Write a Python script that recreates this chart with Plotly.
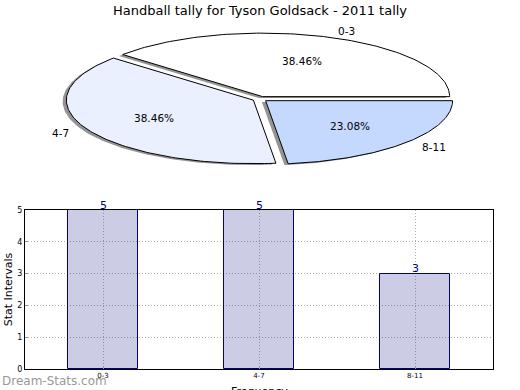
import numpy as np
import plotly.graph_objects as go

title_text = "Handball tally for Tyson Goldsack - 2011 tally"
categories = ["0-3", "4-7", "8-11"]
values = [5, 5, 3]
pie_colors = ["#ffffff", "#eaf0fe", "#c5d8fe"]
y_ticks = [0, 1, 2, 3, 4, 5]

FONT = "DejaVu Sans"
explode = 0.04
shadow_dx, shadow_dy = -0.02, -0.022

fig = go.Figure()

fracs = np.array(values, dtype=float) / np.sum(values)
starts = np.concatenate([[0.0], np.cumsum(fracs)[:-1]]) * 2 * np.pi
ends = np.cumsum(fracs) * 2 * np.pi


def wedge(cx, cy, t1, t2):
    t = np.linspace(t1, t2, 120)
    xs = np.concatenate([[cx], cx + np.cos(t), [cx]])
    ys = np.concatenate([[cy], cy + np.sin(t), [cy]])
    return xs, ys

centers = []
for t1, t2 in zip(starts, ends):
    tm = (t1 + t2) / 2
    centers.append((explode * np.cos(tm), explode * np.sin(tm), tm))

# shadows
for (cx, cy, tm), t1, t2 in zip(centers, starts, ends):
    xs, ys = wedge(cx + shadow_dx, cy + shadow_dy, t1, t2)
    fig.add_trace(go.Scatter(x=xs, y=ys, xaxis="x2", yaxis="y2", mode="lines",
                             fill="toself", fillcolor="rgba(60,60,60,0.55)",
                             line=dict(width=0), hoverinfo="skip", showlegend=False))
# wedges
for (cx, cy, tm), t1, t2, col in zip(centers, starts, ends, pie_colors):
    xs, ys = wedge(cx, cy, t1, t2)
    fig.add_trace(go.Scatter(x=xs, y=ys, xaxis="x2", yaxis="y2", mode="lines",
                             fill="toself", fillcolor=col,
                             line=dict(width=1, color="black"), hoverinfo="skip", showlegend=False))

for (cx, cy, tm), cat, f in zip(centers, categories, fracs):
    xt = cx + 1.1 * np.cos(tm)
    yt = cy + 1.1 * np.sin(tm)
    fig.add_annotation(x=xt, y=yt, xref="x2", yref="y2", text=cat, showarrow=False,
                       xanchor="left" if xt > 0 else "right", yanchor="middle",
                       font=dict(family=FONT, size=10.5, color="black"))
    fig.add_annotation(x=cx + 0.6 * np.cos(tm), y=cy + 0.6 * np.sin(tm), xref="x2", yref="y2",
                       text="%.2f%%" % (f * 100), showarrow=False,
                       xanchor="center", yanchor="middle",
                       font=dict(family=FONT, size=10.5, color="black"))

# bar chart (translucent fill so the dotted grid shows through, like the reference)
fig.add_trace(go.Bar(x=categories, y=values, width=0.45,
                     marker=dict(color="rgba(0,0,125,0.2)", line=dict(color="#000088", width=1)),
                     hoverinfo="skip", showlegend=False))
for cat, v in zip(categories, values):
    fig.add_annotation(x=cat, y=v, xref="x", yref="y", text=str(v), showarrow=False,
                       xanchor="center", yanchor="middle", yshift=5,
                       font=dict(family=FONT, size=11, color="#000088"))

fig.update_layout(
    width=520, height=390,
    margin=dict(l=0, r=0, t=0, b=0),
    paper_bgcolor="white", plot_bgcolor="white",
    font=dict(family=FONT, color="black"),
    title=dict(text=title_text, x=0.5, xanchor="center", y=1 - 10 / 390, yanchor="middle",
               automargin=False,
               font=dict(family=FONT, size=13, color="black")),
    xaxis2=dict(domain=[0, 1], range=[-260 / 187, 260 / 187], visible=False, anchor="y2",
                automargin=False),
    yaxis2=dict(domain=[0.5, 1], range=[-96 / 63.5, 99 / 63.5], visible=False, anchor="x2",
                automargin=False),
    xaxis=dict(domain=[25 / 520, 493 / 520], range=[-0.5, 2.5], anchor="y", automargin=False,
               showline=True, linecolor="black", linewidth=1, mirror=True, layer="above traces",
               ticks="inside", ticklen=3, tickcolor="#999999",
               showgrid=True, gridcolor="#b0b0b0", griddash="1px,2px", gridwidth=1,
               tickfont=dict(family=FONT, size=7, color="black")),
    yaxis=dict(domain=[21 / 390, 180 / 390], range=[0, 5], anchor="x", automargin=False,
               tickvals=y_ticks, showline=True, linecolor="black", linewidth=1, mirror=True,
               layer="above traces",
               ticks="inside", ticklen=3, tickcolor="#999999",
               showgrid=True, gridcolor="#b0b0b0", griddash="1px,2px", gridwidth=1,
               zeroline=False,
               tickfont=dict(family=FONT, size=8, color="black"),
               title=dict(text="Stat Intervals", font=dict(family=FONT, size=11), standoff=2)),
    bargap=0,
)

# x-axis title, placed low as in the reference (partly below the frame edge there)
fig.add_annotation(x=(25 + 493) / 2 / 520, y=(390 - 383) / 390, xref="paper", yref="paper",
                   text="Frequency", showarrow=False, xanchor="center", yanchor="top",
                   font=dict(family=FONT, size=11, color="black"))

fig.add_annotation(x=0, y=9 / 390, xref="paper", yref="paper", text="Dream-Stats.com",
                   showarrow=False, xanchor="left", yanchor="middle",
                   font=dict(family=FONT, size=12, color="#999999"))

fig.write_html("out.html", config={"displayModeBar": False},
               post_script="document.body.style.margin='0';document.body.style.overflow='hidden';")
